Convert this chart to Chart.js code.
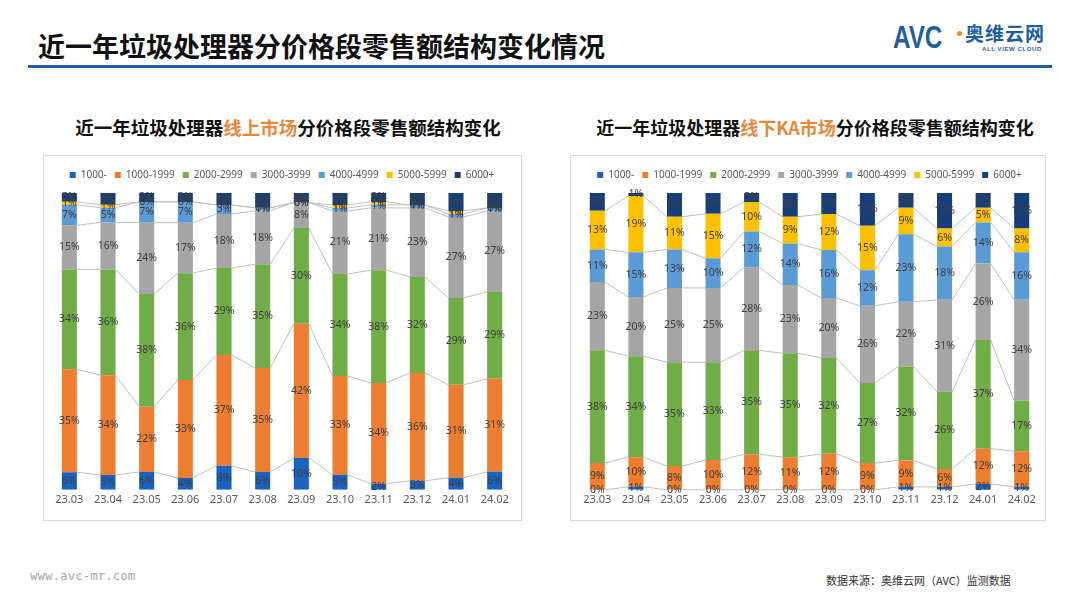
<!DOCTYPE html>
<html>
<head>
<meta charset="utf-8">
<script src="https://cdn.jsdelivr.net/npm/chart.js@4/dist/chart.umd.min.js"></script>
<style>
  html,body{margin:0;padding:0;background:#fff;}
  body{width:1080px;height:608px;position:relative;overflow:hidden;font-family:"Noto Sans CJK SC","Noto Sans",sans-serif;}
  .title{position:absolute;left:38px;top:28px;font-size:27px;font-weight:700;color:#111;line-height:36px;white-space:nowrap;}
  .rule{position:absolute;left:28px;top:65px;width:1024px;height:3px;background:#1f5fa0;}
  .sub{position:absolute;top:114px;font-weight:700;color:#111;line-height:26px;white-space:nowrap;text-align:center;width:500px;}
  .sub span{color:#e8883a;}
  .box{position:absolute;top:155px;height:366px;border:1px solid #d9d9d9;box-sizing:border-box;}
  .box canvas{display:block;}
  .logo-avc{position:absolute;left:893px;top:22px;font-family:"Liberation Sans",Arial,sans-serif;font-weight:700;font-size:31px;color:#1f5fa0;line-height:32px;transform:scaleX(0.78);transform-origin:left top;}
  .logo-dot{position:absolute;left:957px;top:31px;width:5px;height:5px;border-radius:50%;background:#f08a24;}
  .logo-cn{position:absolute;left:965px;top:22px;font-size:19px;font-weight:700;color:#1f5fa0;line-height:22px;letter-spacing:1px;}
  .logo-en{position:absolute;left:982px;top:45px;font-family:"Liberation Sans",Arial,sans-serif;font-size:6px;font-weight:700;color:#1f5fa0;line-height:8px;letter-spacing:0.6px;}
  .foot-l{position:absolute;left:30px;top:568px;font-family:"DejaVu Sans Mono",monospace;font-size:12.5px;color:#a6a6a6;}
  .foot-r{position:absolute;left:826px;top:572px;font-size:11px;color:#333;}
</style>
</head>
<body>
<div class="title">近一年垃圾处理器分价格段零售额结构变化情况</div>
<div class="logo-avc">AVC</div>
<div class="logo-dot"></div>
<div class="logo-cn">奥维云网</div>
<div class="logo-en">ALL VIEW CLOUD</div>
<div class="rule"></div>
<div class="sub" style="left:38px;font-size:18.5px;">近一年垃圾处理器<span>线上市场</span>分价格段零售额结构变化</div>
<div class="sub" style="left:565px;font-size:18px;">近一年垃圾处理器<span>线下KA市场</span>分价格段零售额结构变化</div>
<div class="box" style="left:43px;width:479px;"><canvas id="c1" width="477" height="364"></canvas></div>
<div class="box" style="left:570px;width:476px;"><canvas id="c2" width="474" height="364"></canvas></div>
<div class="foot-l">www.avc-mr.com</div>
<div class="foot-r">数据来源：奥维云网（AVC）监测数据</div>
<script>
// ---- data ----
const months = ['23.03','23.04','23.05','23.06','23.07','23.08','23.09','23.10','23.11','23.12','24.01','24.02'];
const seriesNames = ['1000-','1000-1999','2000-2999','3000-3999','4000-4999','5000-5999','6000+'];

// 线上市场 (online)
const on_lt1000 = [6,5,6,4,8,6,10,5,2,3,4,6];
const on_1000   = [35,34,22,33,37,35,42,33,34,36,31,31];
const on_2000   = [34,36,38,36,29,35,30,34,38,32,29,29];
const on_3000   = [15,16,24,17,18,18,8,21,21,23,27,27];
const on_4000   = [7,5,7,7,3,1,0,1,1,1,1,1];
const on_5000   = [1,1,0,0,0,0,0,1,1,0,1,0];
const on_6000   = [3,4,3,3,4,5,3,4,3,4,6,5];

// 线下KA市场 (offline KA)
const off_lt1000 = [0,1,0,0,0,0,0,0,1,1,2,1];
const off_1000   = [9,10,8,10,12,11,12,9,9,6,12,12];
const off_2000   = [38,34,35,33,35,35,32,27,32,26,37,17];
const off_3000   = [23,20,25,25,28,23,20,26,22,31,26,34];
const off_4000   = [11,15,13,10,12,14,16,12,23,18,14,16];
const off_5000   = [13,19,11,15,10,9,12,15,9,6,5,8];
const off_6000   = [6,1,8,7,3,8,7,11,5,12,5,12];

const colors = ['#1a62c0','#ed7d31','#70ad47','#a5a5a5','#5b9bd5','#ffc000','#163f7a'];

// 100% stacked: normalise each month
function buildDatasets(arrs){
  const totals = months.map((m,i)=>arrs.reduce((s,a)=>s+a[i],0));
  return arrs.map((a,k)=>({
    label: seriesNames[k],
    raw: a,
    data: a.map((v,i)=>v/totals[i]*100),
    backgroundColor: colors[k],
    borderWidth: 0,
    barPercentage: 0.39,
    categoryPercentage: 1.0
  }));
}

const legendMargin = {
  id:'legendMargin',
  beforeInit(chart){
    const fit = chart.legend.fit;
    chart.legend.fit = function(){ fit.bind(chart.legend)(); this.height += 3; };
  }
};

const seriesLines = {
  id:'seriesLines',
  beforeDatasetsDraw(chart){
    const ctx = chart.ctx;
    ctx.save();
    ctx.strokeStyle = '#bfbfbf';
    ctx.lineWidth = 1;
    const n = chart.data.datasets.length;
    for(let d=0; d<n-1; d++){
      const meta = chart.getDatasetMeta(d);
      for(let i=0;i<meta.data.length-1;i++){
        const a = meta.data[i], b = meta.data[i+1];
        ctx.beginPath();
        ctx.moveTo(a.x + a.width/2, a.y);
        ctx.lineTo(b.x - b.width/2, b.y);
        ctx.stroke();
      }
    }
    ctx.restore();
  }
};

const segLabels = {
  id:'segLabels',
  afterDatasetsDraw(chart){
    const ctx = chart.ctx;
    ctx.save();
    ctx.font = '10.5px "Noto Sans", sans-serif';
    ctx.fillStyle = '#404040';
    ctx.textAlign = 'center';
    ctx.textBaseline = 'middle';
    chart.data.datasets.forEach((ds,d)=>{
      const meta = chart.getDatasetMeta(d);
      meta.data.forEach((bar,i)=>{
        ctx.fillText(ds.raw[i] + '%', bar.x, (bar.y + bar.base)/2);
      });
    });
    ctx.restore();
  }
};

function makeChart(id, arrs, pad){
  return new Chart(document.getElementById(id), {
    type:'bar',
    data:{ labels: months, datasets: buildDatasets(arrs) },
    options:{
      responsive:false,
      animation:false,
      layout:{ padding: pad },
      plugins:{
        legend:{
          display:true,
          position:'top',
          labels:{ boxWidth:6, boxHeight:6, padding:8, color:'#595959', font:{ size:10, family:'"Noto Sans", sans-serif' } }
        },
        tooltip:{ enabled:false }
      },
      scales:{
        x:{ stacked:true, grid:{ display:false, drawTicks:false, tickLength:0 }, border:{ display:false },
            ticks:{ color:'#595959', padding:3, font:{ size:11, family:'"Noto Sans", sans-serif' } } },
        y:{ stacked:true, display:false, min:0, max:100 }
      }
    },
    plugins:[legendMargin, seriesLines, segLabels]
  });
}

makeChart('c1', [on_lt1000,on_1000,on_2000,on_3000,on_4000,on_5000,on_6000], {top:6,left:6,right:7,bottom:11});
makeChart('c2', [off_lt1000,off_1000,off_2000,off_3000,off_4000,off_5000,off_6000], {top:6,left:7,right:4,bottom:11});
</script>
</body>
</html>
